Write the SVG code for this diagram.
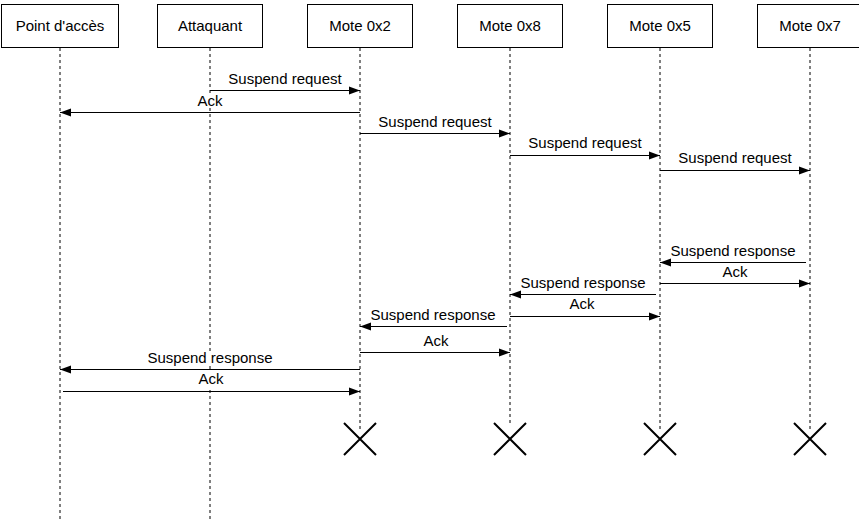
<svg xmlns="http://www.w3.org/2000/svg" width="859" height="521" viewBox="0 0 859 521">
<style>
.box{fill:#fff;stroke:#000;stroke-width:1}
.life{stroke:#000;stroke-width:1;stroke-dasharray:3 3;fill:none}
.msg{stroke:#000;stroke-width:1;fill:none;marker-end:url(#arr)}
.lbl{font-family:"Liberation Sans",Arial,sans-serif;font-size:15px;fill:#000;text-anchor:middle}
.bg{fill:#fff;stroke:none}
.x{stroke:#000;stroke-width:2;fill:none}
</style>
<defs>
<marker id="arr" markerUnits="userSpaceOnUse" markerWidth="11" markerHeight="9" refX="11" refY="4.5" orient="auto">
<path d="M0,0.5 L11,4.5 L0,8.5 z" fill="#000"/>
</marker>
</defs>
<rect width="859" height="521" fill="#fff"/>
<g id="lifelines">
<line class="life" x1="60" y1="48" x2="60" y2="521"/>
<line class="life" x1="210" y1="48" x2="210" y2="521"/>
<line class="life" x1="360" y1="48" x2="360" y2="432"/>
<line class="life" x1="510" y1="48" x2="510" y2="424"/>
<line class="life" x1="660" y1="48" x2="660" y2="432"/>
<line class="life" x1="810" y1="48" x2="810" y2="432"/>
</g>
<g id="node-point-acces"><rect class="box" x="1.5" y="4.5" width="117" height="43"/><text class="lbl" x="60" y="31">Point d'accès</text></g>
<g id="node-attaquant"><rect class="box" x="157.5" y="4.5" width="105" height="43"/><text class="lbl" x="210" y="31">Attaquant</text></g>
<g id="node-mote-0x2"><rect class="box" x="307.5" y="4.5" width="105" height="43"/><text class="lbl" x="360" y="31">Mote 0x2</text></g>
<g id="node-mote-0x8"><rect class="box" x="457.5" y="4.5" width="105" height="43"/><text class="lbl" x="510" y="31">Mote 0x8</text></g>
<g id="node-mote-0x5"><rect class="box" x="607.5" y="4.5" width="105" height="43"/><text class="lbl" x="660" y="31">Mote 0x5</text></g>
<g id="node-mote-0x7"><rect class="box" x="757.5" y="4.5" width="105" height="43"/><text class="lbl" x="810" y="31">Mote 0x7</text></g>
<g id="connectors">
<line class="msg" x1="210" y1="90.5" x2="360" y2="90.5"/>
<text class="lbl" x="285" y="84">Suspend request</text>
<line class="msg" x1="360" y1="112.5" x2="60" y2="112.5"/>
<rect class="bg" x="196" y="94" width="28" height="14"/>
<text class="lbl" x="210" y="106">Ack</text>
<line class="msg" x1="360" y1="133.5" x2="510" y2="133.5"/>
<text class="lbl" x="435" y="127">Suspend request</text>
<line class="msg" x1="510" y1="155.5" x2="660" y2="155.5"/>
<text class="lbl" x="585" y="148">Suspend request</text>
<line class="msg" x1="660" y1="170.5" x2="810" y2="170.5"/>
<text class="lbl" x="735" y="163">Suspend request</text>
<line class="msg" x1="806" y1="262.5" x2="660" y2="262.5"/>
<text class="lbl" x="733" y="256">Suspend response</text>
<line class="msg" x1="660" y1="283.5" x2="810" y2="283.5"/>
<text class="lbl" x="735" y="277">Ack</text>
<line class="msg" x1="656" y1="294.5" x2="510" y2="294.5"/>
<text class="lbl" x="583" y="288">Suspend response</text>
<line class="msg" x1="510" y1="316.5" x2="660" y2="316.5"/>
<text class="lbl" x="582" y="309">Ack</text>
<line class="msg" x1="507" y1="326.5" x2="360" y2="326.5"/>
<text class="lbl" x="433" y="320">Suspend response</text>
<line class="msg" x1="360" y1="352.5" x2="510" y2="352.5"/>
<text class="lbl" x="436" y="346">Ack</text>
<line class="msg" x1="360" y1="369.5" x2="60" y2="369.5"/>
<rect class="bg" x="147" y="351" width="126" height="15"/>
<text class="lbl" x="210" y="363">Suspend response</text>
<line class="msg" x1="63" y1="391.5" x2="360" y2="391.5"/>
<rect class="bg" x="197" y="372" width="28" height="15"/>
<text class="lbl" x="211" y="384">Ack</text>
</g>
<g id="destroy-marks">
<path class="x" d="M344,423 L376,455 M376,423 L344,455"/>
<path class="x" d="M494,423 L526,455 M526,423 L494,455"/>
<path class="x" d="M644,423 L676,455 M676,423 L644,455"/>
<path class="x" d="M794,423 L826,455 M826,423 L794,455"/>
</g>
</svg>
